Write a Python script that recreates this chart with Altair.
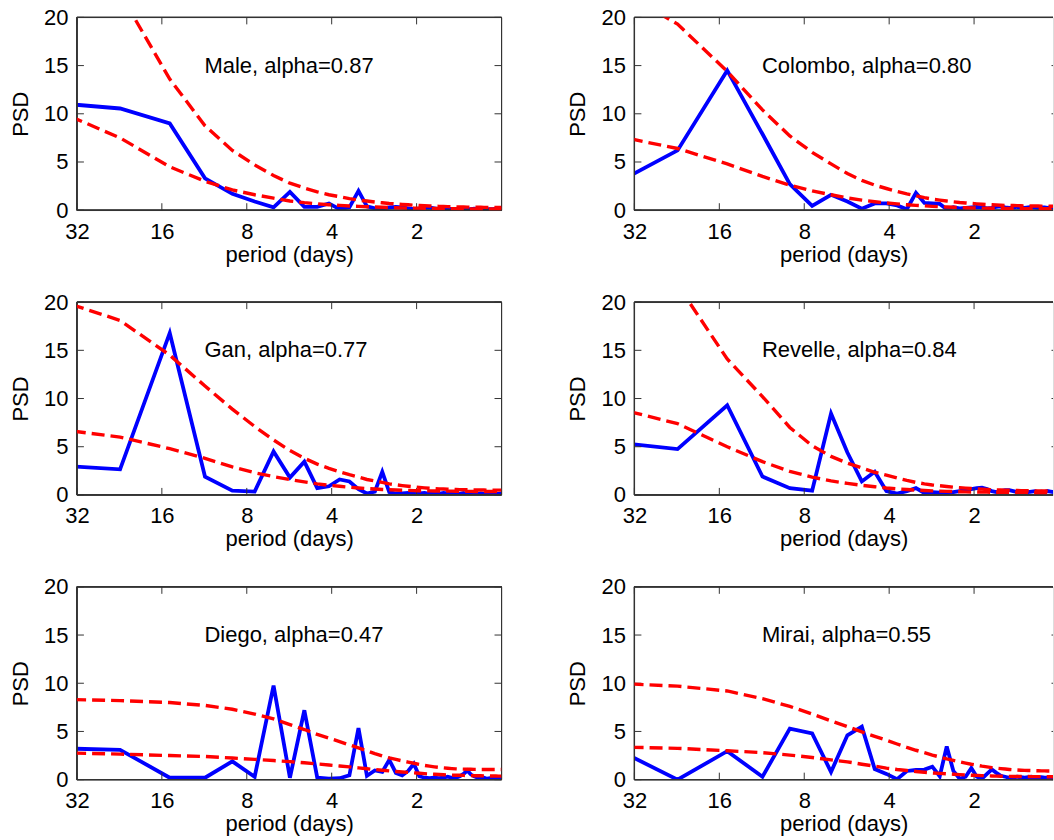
import altair as alt
import pandas as pd

# ---------------- data ----------------
record_days = 45                      # spectral resolution 1/45 cycles per day
freq_index = list(range(1, 46))       # harmonics k = 1 .. 45
period = [record_days / k for k in freq_index]

stations = ["Male", "Colombo", "Gan", "Revelle", "Diego", "Mirai"]
alphas = ["0.87", "0.80", "0.77", "0.84", "0.47", "0.55"]

psd_male = [11.3, 10.55, 9.0, 3.3, 1.7, 0.9, 0.3, 1.9, 0.35, 0.35, 0.7, 0.1, 0.3, 2.0, 0.4,
            0.2, 0.15, 0.3, 0.35, 0.3, 0.2, 0.1, 0.15, 0.25, 0.3, 0.2, 0.1, 0.15, 0.2, 0.1,
            0.1, 0.15, 0.2, 0.1, 0.1, 0.15, 0.1, 0.1, 0.15, 0.1, 0.1, 0.1, 0.15, 0.1, 0.1]
low_male = [11.3, 7.5, 4.5, 3.0, 2.1, 1.6, 1.25, 0.95, 0.78, 0.66, 0.57, 0.5, 0.44, 0.4, 0.36,
            0.33, 0.3, 0.28, 0.26, 0.24, 0.23, 0.22, 0.21, 0.2, 0.19, 0.18, 0.18, 0.17, 0.17, 0.16,
            0.16, 0.15, 0.15, 0.15, 0.14, 0.14, 0.14, 0.13, 0.13, 0.13, 0.13, 0.12, 0.12, 0.12, 0.12]
up_male = [34.0, 22.5, 13.6, 8.75, 6.2, 4.7, 3.6, 2.8, 2.3, 1.9, 1.6, 1.4, 1.2, 1.05, 0.95,
           0.85, 0.77, 0.7, 0.65, 0.6, 0.56, 0.52, 0.49, 0.46, 0.44, 0.42, 0.4, 0.38, 0.37, 0.36,
           0.35, 0.34, 0.33, 0.32, 0.31, 0.31, 0.3, 0.3, 0.29, 0.29, 0.29, 0.28, 0.28, 0.28, 0.28]

psd_colombo = [1.5, 6.2, 14.5, 7.9, 2.7, 0.45, 1.6, 0.9, 0.15, 0.7, 0.7, 0.5, 0.1, 1.8, 0.75,
               0.7, 0.65, 0.1, 0.3, 0.2, 0.25, 0.3, 0.35, 0.3, 0.2, 0.25, 0.35, 0.4, 0.3, 0.25,
               0.3, 0.35, 0.3, 0.25, 0.3, 0.35, 0.3, 0.25, 0.3, 0.3, 0.25, 0.3, 0.3, 0.25, 0.3]
low_colombo = [8.2, 6.4, 4.8, 3.5, 2.6, 2.0, 1.6, 1.27, 1.05, 0.88, 0.75, 0.65, 0.57, 0.5, 0.45,
               0.4, 0.36, 0.33, 0.3, 0.28, 0.26, 0.24, 0.23, 0.22, 0.21, 0.2, 0.19, 0.19, 0.18, 0.18,
               0.17, 0.17, 0.17, 0.16, 0.16, 0.16, 0.15, 0.15, 0.15, 0.15, 0.15, 0.14, 0.14, 0.14, 0.14]
up_colombo = [24.5, 19.3, 14.4, 10.4, 7.7, 6.0, 4.8, 3.8, 3.1, 2.6, 2.25, 1.95, 1.7, 1.5, 1.3,
              1.15, 1.05, 0.95, 0.87, 0.8, 0.75, 0.7, 0.66, 0.62, 0.59, 0.56, 0.54, 0.52, 0.5, 0.49,
              0.48, 0.47, 0.46, 0.45, 0.44, 0.44, 0.43, 0.43, 0.42, 0.42, 0.42, 0.41, 0.41, 0.41, 0.41]

psd_gan = [3.2, 2.65, 16.8, 1.9, 0.45, 0.35, 4.5, 1.8, 3.45, 0.7, 0.9, 1.6, 1.4, 0.6, 0.15,
           0.35, 2.4, 0.3, 0.15, 0.15, 0.2, 0.1, 0.15, 0.2, 0.1, 0.15, 0.1, 0.2, 0.15, 0.1,
           0.15, 0.1, 0.2, 0.1, 0.15, 0.1, 0.1, 0.15, 0.1, 0.2, 0.1, 0.15, 0.1, 0.1, 0.15]
low_gan = [7.1, 6.0, 4.8, 3.8, 2.9, 2.3, 1.9, 1.6, 1.35, 1.15, 1.0, 0.9, 0.8, 0.72, 0.66,
           0.61, 0.57, 0.54, 0.51, 0.49, 0.47, 0.45, 0.44, 0.43, 0.42, 0.41, 0.4, 0.4, 0.39, 0.39,
           0.38, 0.38, 0.37, 0.37, 0.37, 0.36, 0.36, 0.36, 0.36, 0.35, 0.35, 0.35, 0.35, 0.35, 0.35]
up_gan = [21.0, 18.1, 14.5, 11.3, 8.9, 7.1, 5.7, 4.6, 3.8, 3.2, 2.75, 2.4, 2.1, 1.85, 1.6,
          1.45, 1.3, 1.15, 1.05, 0.97, 0.9, 0.84, 0.78, 0.73, 0.69, 0.66, 0.63, 0.61, 0.59, 0.57,
          0.56, 0.55, 0.54, 0.53, 0.52, 0.52, 0.51, 0.51, 0.51, 0.5, 0.5, 0.5, 0.5, 0.5, 0.5]

psd_revelle = [5.7, 4.75, 9.3, 1.9, 0.7, 0.45, 8.45, 4.4, 1.4, 2.4, 0.4, 0.15, 0.4, 0.7, 0.2,
               0.3, 0.25, 0.15, 0.3, 0.4, 0.5, 0.6, 0.7, 0.75, 0.6, 0.4, 0.3, 0.4, 0.5, 0.5,
               0.4, 0.3, 0.35, 0.4, 0.3, 0.35, 0.4, 0.3, 0.35, 0.3, 0.4, 0.35, 0.3, 0.35, 0.3]
low_revelle = [9.6, 7.4, 5.0, 3.45, 2.45, 1.85, 1.45, 1.2, 1.0, 0.85, 0.72, 0.63, 0.56, 0.5, 0.46,
               0.42, 0.39, 0.37, 0.35, 0.33, 0.32, 0.31, 0.3, 0.29, 0.29, 0.28, 0.28, 0.27, 0.27, 0.27,
               0.26, 0.26, 0.26, 0.26, 0.26, 0.25, 0.25, 0.25, 0.25, 0.25, 0.25, 0.25, 0.25, 0.25, 0.25]
up_revelle = [29.0, 21.8, 14.1, 10.2, 7.0, 5.1, 4.0, 3.3, 2.8, 2.35, 2.05, 1.75, 1.5, 1.3, 1.15,
              1.03, 0.95, 0.87, 0.8, 0.75, 0.7, 0.66, 0.62, 0.6, 0.57, 0.55, 0.53, 0.51, 0.5, 0.48,
              0.47, 0.46, 0.45, 0.44, 0.43, 0.43, 0.42, 0.42, 0.41, 0.41, 0.41, 0.4, 0.4, 0.4, 0.4]

psd_diego = [3.3, 3.1, 0.2, 0.2, 1.9, 0.3, 9.75, 0.2, 7.2, 0.2, 0.1, 0.15, 0.45, 5.35, 0.4,
             0.95, 0.8, 2.05, 0.7, 0.45, 0.9, 1.65, 0.35, 0.2, 0.15, 0.2, 0.15, 0.2, 0.3, 0.2,
             0.2, 0.35, 0.6, 0.95, 0.55, 0.35, 0.2, 0.15, 0.2, 0.1, 0.15, 0.1, 0.1, 0.15, 0.1]
low_diego = [2.85, 2.65, 2.5, 2.4, 2.25, 2.1, 1.98, 1.87, 1.75, 1.63, 1.52, 1.42, 1.32, 1.22, 1.13,
             1.05, 0.98, 0.91, 0.85, 0.8, 0.75, 0.7, 0.66, 0.62, 0.59, 0.56, 0.53, 0.51, 0.49, 0.47,
             0.46, 0.45, 0.44, 0.43, 0.42, 0.41, 0.4, 0.4, 0.39, 0.39, 0.38, 0.38, 0.38, 0.37, 0.37]
up_diego = [8.4, 8.2, 8.0, 7.7, 7.3, 6.8, 6.3, 5.7, 5.2, 4.7, 4.3, 3.95, 3.6, 3.3, 3.0,
            2.7, 2.45, 2.25, 2.1, 1.95, 1.82, 1.7, 1.58, 1.48, 1.4, 1.33, 1.27, 1.22, 1.18, 1.15,
            1.12, 1.1, 1.09, 1.08, 1.08, 1.07, 1.07, 1.06, 1.06, 1.06, 1.05, 1.05, 1.05, 1.05, 1.05]

psd_mirai = [4.4, 0.0, 2.95, 0.3, 5.3, 4.8, 0.8, 4.6, 5.5, 1.1, 0.6, 0.05, 0.9, 1.0, 1.05,
             1.35, 0.35, 3.45, 0.9, 0.1, 0.3, 1.2, 0.3, 0.1, 0.6, 1.05, 0.7, 0.4, 0.3, 0.2,
             0.25, 0.3, 0.25, 0.2, 0.25, 0.3, 0.2, 0.2, 0.25, 0.2, 0.2, 0.2, 0.2, 0.2, 0.2]
low_mirai = [3.45, 3.25, 3.0, 2.8, 2.55, 2.3, 2.05, 1.85, 1.6, 1.4, 1.2, 1.05, 0.95, 0.85, 0.77,
             0.7, 0.65, 0.6, 0.56, 0.52, 0.49, 0.46, 0.44, 0.42, 0.4, 0.38, 0.37, 0.36, 0.35, 0.34,
             0.33, 0.33, 0.32, 0.32, 0.32, 0.31, 0.31, 0.31, 0.31, 0.3, 0.3, 0.3, 0.3, 0.3, 0.3]
up_mirai = [10.1, 9.7, 9.2, 8.4, 7.6, 6.8, 6.1, 5.5, 4.95, 4.5, 4.1, 3.7, 3.35, 3.05, 2.8,
            2.55, 2.35, 2.15, 2.0, 1.85, 1.72, 1.6, 1.5, 1.4, 1.32, 1.25, 1.19, 1.14, 1.1, 1.06,
            1.03, 1.0, 0.98, 0.96, 0.95, 0.94, 0.93, 0.92, 0.91, 0.91, 0.9, 0.9, 0.9, 0.9, 0.9]

psd = [psd_male, psd_colombo, psd_gan, psd_revelle, psd_diego, psd_mirai]
red_noise = [low_male, low_colombo, low_gan, low_revelle, low_diego, low_mirai]
signif = [up_male, up_colombo, up_gan, up_revelle, up_diego, up_mirai]

x_ticks = [32, 16, 8, 4, 2]
y_ticks = [0, 5, 10, 15, 20]
label_period = 11.3   # left edge of the station label (data units)
label_level = 15

# ---------------- styling ----------------
FONT = "Liberation Sans"
FRAME = "#333333"
H = 193
PX_PER_OCTAVE = 85
TICK = 7


def panel(i):
    right_col = i % 2 == 1
    W = 419 if right_col else 425
    lo = 32 / 2 ** (W / PX_PER_OCTAVE)
    xs = alt.Scale(type="log", base=2, domain=[lo, 32], reverse=True, nice=False)
    ys = alt.Scale(domain=[0, 20], nice=False, zero=False)

    rows = []
    for s_name, arr in (("psd", psd[i]), ("red", red_noise[i]), ("sig", signif[i])):
        for p, v in zip(period, arr):
            rows.append({"period": p, "value": v, "series": s_name})
    df = pd.DataFrame(rows)

    x_axis = alt.Axis(values=x_ticks, format="d", labelFlush=False, ticks=False, tickSize=0,
                      domain=False, grid=False, labelFontSize=22, labelColor="black",
                      labelFont=FONT, labelPadding=11, title="period (days)",
                      titleFontSize=22, titleFontWeight="normal", titleFont=FONT,
                      titleColor="black", titlePadding=2)
    y_axis = alt.Axis(values=y_ticks, labelFlush=False, ticks=False, tickSize=0,
                      domain=False, grid=False, labelFontSize=22, labelColor="black",
                      labelFont=FONT, labelPadding=9, title="PSD", titleFontSize=22,
                      titleFontWeight="normal", titleFont=FONT, titleColor="black",
                      titlePadding=11)

    base = alt.Chart(df)
    blue = base.transform_filter(alt.datum.series == "psd").mark_line(
        color="#0000ff", strokeWidth=3.8, clip=True).encode(
        x=alt.X("period:Q", scale=xs, axis=x_axis),
        y=alt.Y("value:Q", scale=ys, axis=y_axis),
    )
    red = base.transform_filter(alt.datum.series != "psd").mark_line(
        color="#ff0000", strokeWidth=3.4, strokeDash=[13, 6], clip=True).encode(
        x=alt.X("period:Q", scale=xs),
        y=alt.Y("value:Q", scale=ys),
        detail="series:N",
    )

    xt = alt.Chart(pd.DataFrame({"period": x_ticks}))
    yt = alt.Chart(pd.DataFrame({"value": y_ticks}))
    ticks_bottom = xt.mark_rule(color=FRAME, strokeWidth=1).encode(
        x=alt.X("period:Q", scale=xs), y=alt.value(H), y2=alt.value(H - TICK))
    ticks_top = xt.mark_rule(color=FRAME, strokeWidth=1).encode(
        x=alt.X("period:Q", scale=xs), y=alt.value(0), y2=alt.value(TICK))
    ticks_left = yt.mark_rule(color=FRAME, strokeWidth=1).encode(
        y=alt.Y("value:Q", scale=ys), x=alt.value(0), x2=alt.value(TICK))
    if right_col:
        ticks_right = yt.mark_rule(color=FRAME, strokeWidth=1).encode(
            y=alt.Y("value:Q", scale=ys), x=alt.value(W - 1.5), x2=alt.value(W))
    else:
        ticks_right = yt.mark_rule(color=FRAME, strokeWidth=1).encode(
            y=alt.Y("value:Q", scale=ys), x=alt.value(W), x2=alt.value(W - TICK))

    frame_top = xt.mark_rule(color=FRAME, strokeWidth=1).encode(
        x=alt.value(0), x2=alt.value(W), y=alt.value(0))
    frame_bottom = xt.mark_rule(color=FRAME, strokeWidth=1).encode(
        x=alt.value(0), x2=alt.value(W), y=alt.value(H))
    frame_left = xt.mark_rule(color=FRAME, strokeWidth=1).encode(
        x=alt.value(0), y=alt.value(0), y2=alt.value(H))
    layers = [frame_top, frame_bottom, frame_left]
    if not right_col:
        layers.append(xt.mark_rule(color=FRAME, strokeWidth=1).encode(
            x=alt.value(W), y=alt.value(0), y2=alt.value(H)))

    label = alt.Chart(pd.DataFrame({"t": [f"{stations[i]}, alpha={alphas[i]}"]})).mark_text(
        align="left", baseline="middle", fontSize=22, font=FONT, color="black").encode(
        x=alt.X(datum=label_period, scale=xs),
        y=alt.Y(datum=label_level, scale=ys),
        text="t:N",
    )

    return alt.layer(blue, *layers, ticks_bottom, ticks_top, ticks_left, ticks_right,
                     red, label).properties(width=W, height=H)


chart = alt.concat(*[panel(i) for i in range(6)], columns=2).properties(
    spacing={"row": 92, "column": 133},
    bounds="flush",
    padding={"left": 9, "top": 5, "right": 0, "bottom": 0},
    background="white",
).configure_view(stroke=None).configure(font=FONT)

chart.save("out.html", embed_options={"renderer": "svg", "actions": False})
